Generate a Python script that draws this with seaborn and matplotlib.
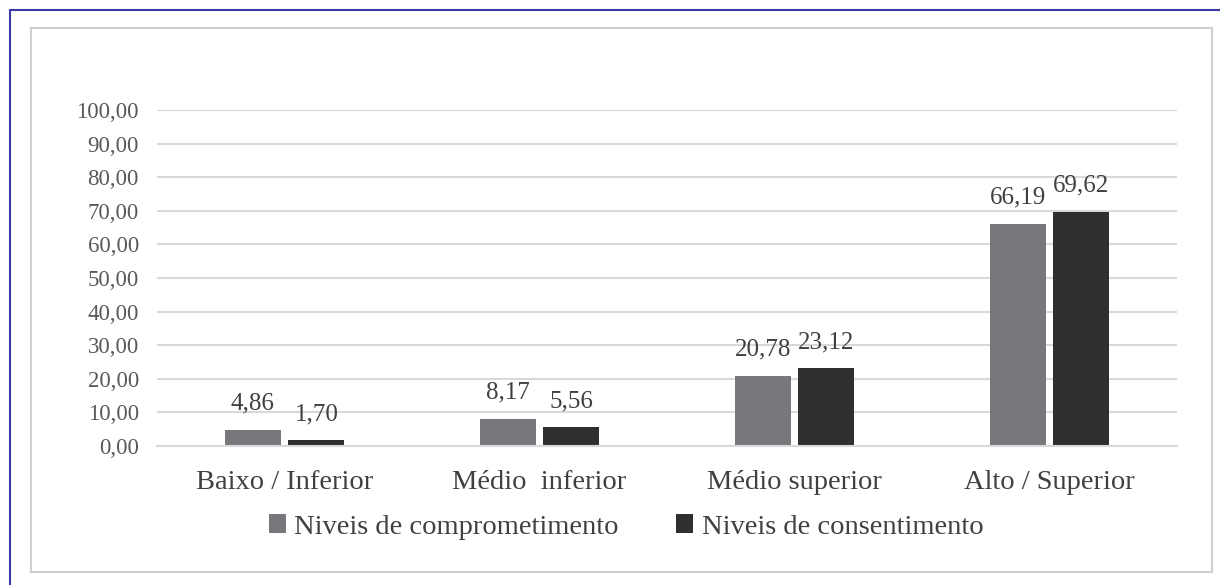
import matplotlib
matplotlib.use("Agg")
import matplotlib.pyplot as plt
import seaborn as sns
import pandas as pd
from matplotlib.patches import Rectangle
from matplotlib.lines import Line2D

categories = ["Baixo / Inferior", "Médio  inferior", "Médio superior", "Alto / Superior"]
series_names = ["Niveis de comprometimento", "Niveis de consentimento"]
comprometimento = [4.86, 8.17, 20.78, 66.19]
consentimento = [1.70, 5.56, 23.12, 69.62]
yticks = [0, 10, 20, 30, 40, 50, 60, 70, 80, 90, 100]

df = pd.DataFrame({
    "cat": categories * 2,
    "serie": [series_names[0]] * 4 + [series_names[1]] * 4,
    "val": comprometimento + consentimento,
})

sns.set_theme(style="white")
plt.rcParams["font.family"] = ["Liberation Serif", "DejaVu Serif"]

W, H = 1220, 585
fig = plt.figure(figsize=(W / 100, H / 100), dpi=100)
fig.patch.set_facecolor("white")

def px(x0, y0, x1, y1):
    return [x0 / W, 1 - y1 / H, (x1 - x0) / W, (y1 - y0) / H]

ax = fig.add_axes(px(157, 110, 1177, 446))

palette = {series_names[0]: "#77787b", series_names[1]: "#2f2f2f"}
sns.barplot(data=df, x="cat", y="val", hue="serie", order=categories,
            hue_order=series_names, palette=palette, width=0.5, gap=0.12,
            saturation=1, ax=ax, legend=True, linewidth=0)

ax.set_ylim(0, 100)
ax.set_xlim(-0.5, 3.5)
ax.set_yticks(yticks)
ax.set_yticklabels([f"{v:.2f}".replace(".", ",") for v in yticks])
ax.yaxis.grid(True, color="#d9d9d9", linewidth=1.5)
ax.set_axisbelow(True)
for s in ["top", "right", "left"]:
    ax.spines[s].set_visible(False)
ax.spines["bottom"].set_color("#d9d9d9")
ax.spines["bottom"].set_linewidth(1.5)
ax.tick_params(axis="y", length=0, pad=13, labelsize=16.5, labelcolor="#595959")
ax.tick_params(axis="x", length=0, pad=17, labelsize=20.5, labelcolor="#404040")
ax.set_xlabel("")
ax.set_ylabel("")

for cont in ax.containers:
    ax.bar_label(cont, labels=[f"{v:.2f}".replace(".", ",") for v in cont.datavalues],
                 padding=11, fontsize=18, color="#404040")

leg = ax.get_legend()
handles, labels = ax.get_legend_handles_labels()
leg.remove()
fig.legend(handles, labels, loc="center", bbox_to_anchor=(626 / W, 1 - 527 / H),
           ncol=2, frameon=False, fontsize=20.5, labelcolor="#404040",
           handlelength=0.6, handleheight=0.6, handletextpad=0.3, columnspacing=2.0)

# outer borders
fig.lines.append(Line2D([10 / W, 10 / W], [0, 1 - 9.5 / H], transform=fig.transFigure,
                        color="#3b3ba8", linewidth=1.5))
fig.lines.append(Line2D([10 / W, 1], [1 - 9.5 / H, 1 - 9.5 / H], transform=fig.transFigure,
                        color="#3b3ba8", linewidth=1.5))
fig.patches.append(Rectangle((31 / W, 1 - 572 / H), 1181 / W, 544 / H, transform=fig.transFigure,
                             fill=False, edgecolor="#cfcfcf", linewidth=1.5))

fig.savefig("out.png", dpi=100)
